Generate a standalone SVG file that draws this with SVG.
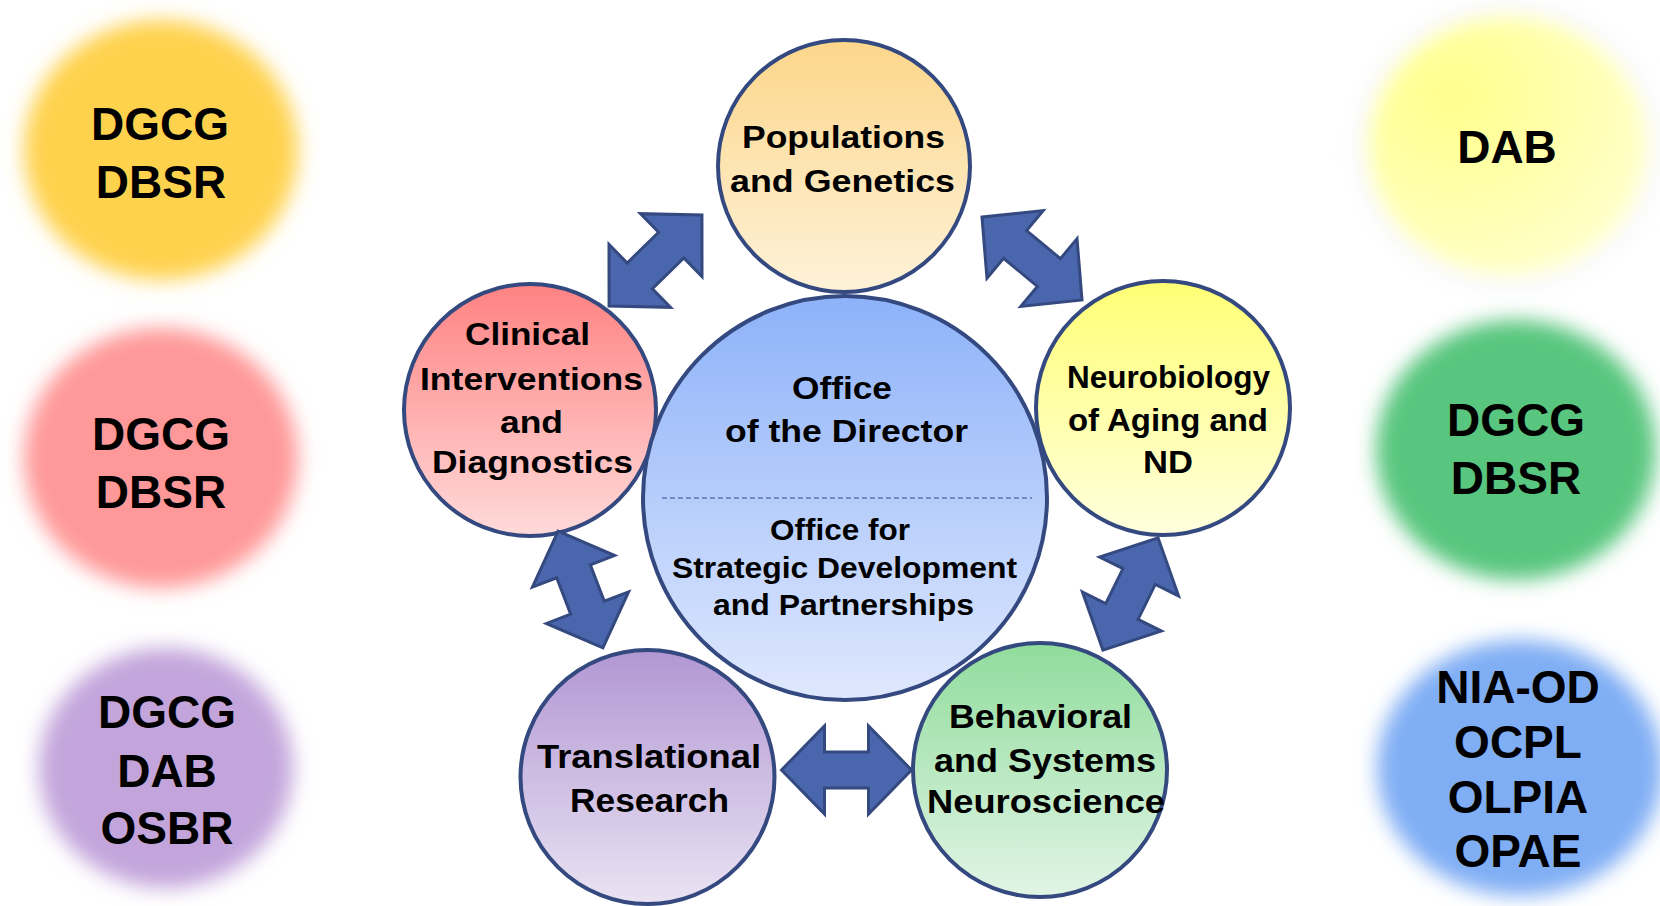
<svg xmlns="http://www.w3.org/2000/svg" width="1660" height="906" viewBox="0 0 1660 906">
  <style>
    .lbl { font-family: "Liberation Sans", Arial, sans-serif; font-weight: bold; fill: #000; text-anchor: middle; }
    .big { font-size: 46px; }
    .mid { font-size: 31px; }
    .ring { stroke: #34497F; stroke-width: 4; }
    .arrow { fill: #4A66AC; stroke: #34497F; stroke-width: 3; stroke-linejoin: miter; }
    .soft { filter: url(#soften); }
  </style>
  <defs>
    <filter id="soften" x="-30%" y="-30%" width="160%" height="160%">
      <feGaussianBlur stdDeviation="10"/>
    </filter>
    <linearGradient id="gPop" x1="0" y1="0" x2="0" y2="1">
      <stop offset="0" stop-color="#FCD68A"/>
      <stop offset="1" stop-color="#FEF2D9"/>
    </linearGradient>
    <linearGradient id="gDir" x1="0" y1="0" x2="0" y2="1">
      <stop offset="0" stop-color="#8DB2F9"/>
      <stop offset="1" stop-color="#DFE8FD"/>
    </linearGradient>
    <linearGradient id="gCli" x1="0" y1="0" x2="0" y2="1">
      <stop offset="0" stop-color="#FF8282"/>
      <stop offset="1" stop-color="#FFDADA"/>
    </linearGradient>
    <linearGradient id="gNeu" x1="0" y1="0" x2="0" y2="1">
      <stop offset="0" stop-color="#FFFF74"/>
      <stop offset="1" stop-color="#FFFFDE"/>
    </linearGradient>
    <linearGradient id="gTra" x1="0" y1="0" x2="0" y2="1">
      <stop offset="0" stop-color="#B197D3"/>
      <stop offset="1" stop-color="#EAE3F3"/>
    </linearGradient>
    <linearGradient id="gBeh" x1="0" y1="0" x2="0" y2="1">
      <stop offset="0" stop-color="#90DC9C"/>
      <stop offset="1" stop-color="#E2F5E6"/>
    </linearGradient>
    <radialGradient id="gDab" cx="0.3" cy="0.3" r="0.8">
      <stop offset="0" stop-color="#FFFF8C"/>
      <stop offset="1" stop-color="#FFFFCC"/>
    </radialGradient>
    <!-- double-headed block arrows, centred on the origin along the x axis -->
    <path id="arrow130" d="M -65,0 L -22,-44 L -22,-18 L 22,-18 L 22,-44 L 65,0 L 22,44 L 22,18 L -22,18 L -22,44 Z"/>
    <path id="arrow125" d="M -62.5,0 L -19.5,-44 L -19.5,-18 L 19.5,-18 L 19.5,-44 L 62.5,0 L 19.5,44 L 19.5,18 L -19.5,18 L -19.5,44 Z"/>
  </defs>

  <rect width="1660" height="906" fill="#FFFFFF"/>

  <!-- division badges, left column -->
  <g id="badge-left-top">
    <ellipse class="soft" cx="161" cy="150" rx="137" ry="130" fill="#FFD24E"/>
    <text class="lbl big" x="160" y="140">DGCG</text>
    <text class="lbl big" x="161" y="198">DBSR</text>
  </g>
  <g id="badge-left-middle">
    <ellipse class="soft" cx="161" cy="458" rx="137" ry="130" fill="#FF9999"/>
    <text class="lbl big" x="161" y="450">DGCG</text>
    <text class="lbl big" x="161" y="508">DBSR</text>
  </g>
  <g id="badge-left-bottom">
    <ellipse class="soft" cx="166" cy="768" rx="127" ry="120" fill="#C3A5DB"/>
    <text class="lbl big" x="167" y="728">DGCG</text>
    <text class="lbl big" x="167" y="787">DAB</text>
    <text class="lbl big" x="167" y="844">OSBR</text>
  </g>

  <!-- division badges, right column -->
  <g id="badge-right-top">
    <ellipse class="soft" cx="1508" cy="146" rx="148" ry="138" fill="none" stroke="#EEF0F8" stroke-width="6"/>
    <ellipse class="soft" cx="1508" cy="146" rx="139" ry="129" fill="url(#gDab)"/>
    <text class="lbl big" x="1507" y="163">DAB</text>
  </g>
  <g id="badge-right-middle">
    <ellipse class="soft" cx="1516" cy="450" rx="140" ry="130" fill="#59C67E"/>
    <text class="lbl big" x="1516" y="436">DGCG</text>
    <text class="lbl big" x="1516" y="494">DBSR</text>
  </g>
  <g id="badge-right-bottom">
    <ellipse class="soft" cx="1520" cy="768" rx="143" ry="128" fill="#80AEF4"/>
    <text class="lbl big" x="1518" y="703">NIA-OD</text>
    <text class="lbl big" x="1518" y="758">OCPL</text>
    <text class="lbl big" x="1518" y="813">OLPIA</text>
    <text class="lbl big" x="1518" y="867">OPAE</text>
  </g>

  <!-- program circles -->
  <g id="clinical">
    <circle class="ring" cx="530" cy="410" r="126" fill="url(#gCli)"/>
    <text class="lbl mid" x="527.5" y="345" textLength="125" lengthAdjust="spacingAndGlyphs">Clinical</text>
    <text class="lbl mid" x="531.5" y="390" textLength="223" lengthAdjust="spacingAndGlyphs">Interventions</text>
    <text class="lbl mid" x="531.5" y="433" textLength="63" lengthAdjust="spacingAndGlyphs">and</text>
    <text class="lbl mid" x="532.5" y="473" textLength="201" lengthAdjust="spacingAndGlyphs">Diagnostics</text>
  </g>
  <g id="neurobiology">
    <circle class="ring" cx="1163" cy="408" r="127" fill="url(#gNeu)"/>
    <text class="lbl mid" x="1168.5" y="388" textLength="203" lengthAdjust="spacingAndGlyphs">Neurobiology</text>
    <text class="lbl mid" x="1168" y="431" textLength="200" lengthAdjust="spacingAndGlyphs">of Aging and</text>
    <text class="lbl mid" x="1168" y="473" textLength="50" lengthAdjust="spacingAndGlyphs">ND</text>
  </g>
  <g id="director">
    <circle class="ring" cx="845" cy="498" r="202" fill="url(#gDir)"/>
    <text class="lbl mid" x="842" y="399" textLength="100" lengthAdjust="spacingAndGlyphs">Office</text>
    <text class="lbl mid" x="846.5" y="442" textLength="243" lengthAdjust="spacingAndGlyphs">of the Director</text>
    <line x1="662" y1="498" x2="1032" y2="498" stroke="#5676BE" stroke-width="1.5" stroke-dasharray="5 3"/>
    <text class="lbl" font-size="30" x="840" y="540" textLength="140" lengthAdjust="spacingAndGlyphs">Office for</text>
    <text class="lbl" font-size="30" x="844.5" y="578" textLength="345" lengthAdjust="spacingAndGlyphs">Strategic Development</text>
    <text class="lbl" font-size="30" x="843.5" y="615" textLength="261" lengthAdjust="spacingAndGlyphs">and Partnerships</text>
  </g>
  <g id="populations">
    <circle class="ring" cx="844" cy="166" r="126" fill="url(#gPop)"/>
    <text class="lbl mid" x="843.5" y="148" textLength="203" lengthAdjust="spacingAndGlyphs">Populations</text>
    <text class="lbl mid" x="842.5" y="192" textLength="225" lengthAdjust="spacingAndGlyphs">and Genetics</text>
  </g>
  <g id="translational">
    <circle class="ring" cx="647.5" cy="777" r="127" fill="url(#gTra)"/>
    <text class="lbl" font-size="33" x="649" y="768" textLength="224" lengthAdjust="spacingAndGlyphs">Translational</text>
    <text class="lbl" font-size="33" x="649.5" y="812" textLength="159" lengthAdjust="spacingAndGlyphs">Research</text>
  </g>
  <g id="behavioral">
    <circle class="ring" cx="1040" cy="770" r="127" fill="url(#gBeh)"/>
    <text class="lbl" font-size="33" x="1040.5" y="728" textLength="183" lengthAdjust="spacingAndGlyphs">Behavioral</text>
    <text class="lbl" font-size="33" x="1045" y="772" textLength="222" lengthAdjust="spacingAndGlyphs">and Systems</text>
    <text class="lbl" font-size="33" x="1046" y="813" textLength="238" lengthAdjust="spacingAndGlyphs">Neuroscience</text>
  </g>

  <!-- connectors: two-way block arrows between neighbouring programs -->
  <g id="connectors">
    <use href="#arrow130" class="arrow" transform="translate(655.5 260.5) rotate(-44.4)"/>
    <use href="#arrow130" class="arrow" transform="translate(1032 258.5) rotate(39.7)"/>
    <use href="#arrow125" class="arrow" transform="translate(1130.5 594) rotate(116.2)"/>
    <use href="#arrow130" class="arrow" transform="translate(846.5 770) rotate(0)"/>
    <use href="#arrow125" class="arrow" transform="translate(580.5 589.5) rotate(69)"/>
  </g>
</svg>
